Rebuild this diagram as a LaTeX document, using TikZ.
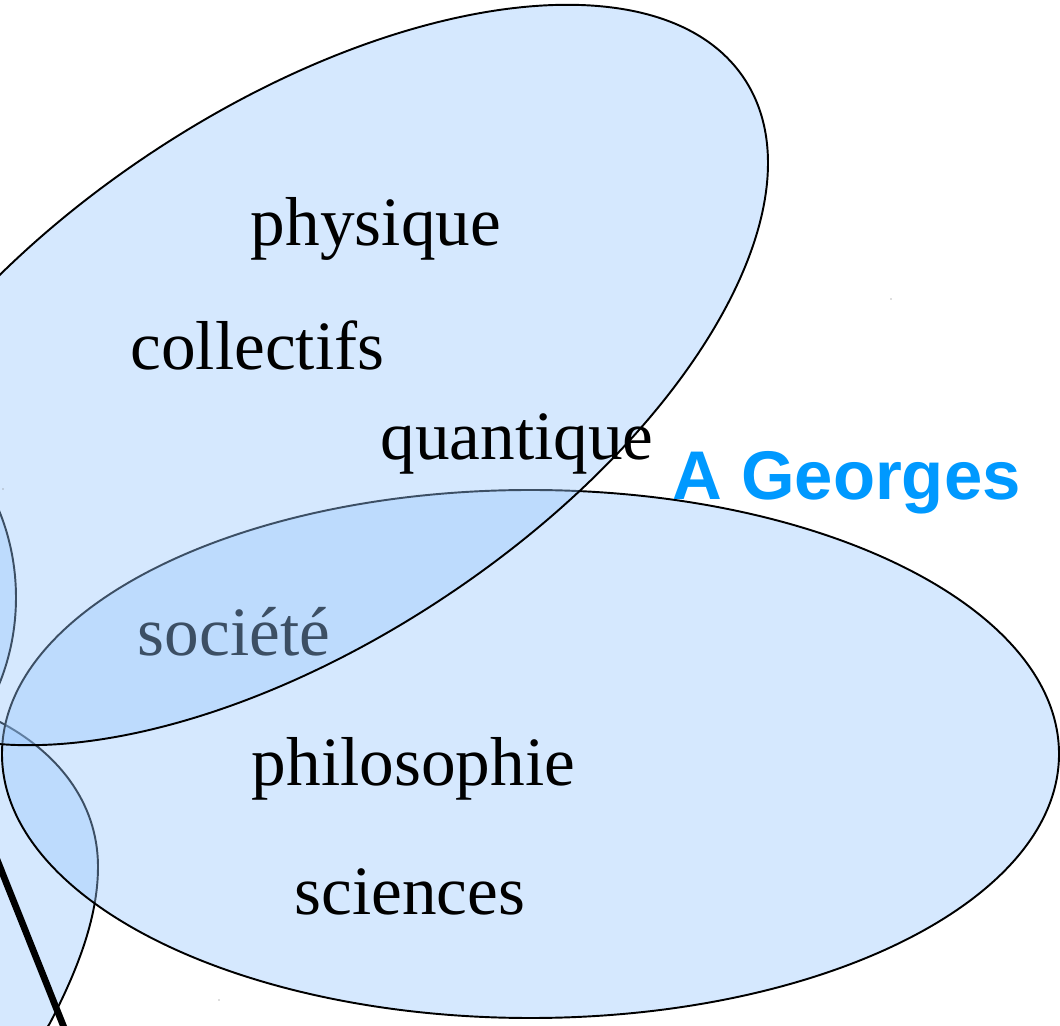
\documentclass[tikz,border=0pt]{standalone}
\usepackage{fontspec}
\setmainfont{Liberation Serif}
\newfontfamily\authorfont{Liberation Sans}
\usepackage{xcolor}
\usepackage{tikz}
\definecolor{bbFill}{HTML}{97C6FC}
\definecolor{bbInk}{HTML}{000000}
\definecolor{bbAuthor}{HTML}{0099FF}
\definecolor{bbSpeck}{HTML}{707070}
\tikzset{
  bb diagram/.style={line cap=round, line join=round},
  bb bubble/.style={draw=bbInk, line width=0.55pt, fill=bbFill,
    fill opacity=0.4, draw opacity=1},
  bb word/.style={font=\fontsize{19.7}{23}\selectfont, text=bbInk,
    anchor=base, inner sep=0pt},
  bb author/.style={font=\authorfont\bfseries\fontsize{19.6}{23}\selectfont,
    text=bbAuthor, anchor=base, inner sep=0pt},
  bb stroke/.style={draw=bbInk, line width=1.9pt},
  bb speck/.style={fill=bbSpeck}
}

\begin{document}
\begin{tikzpicture}[bb diagram]
\useasboundingbox (0,0) rectangle (10.6,10.25);
\clip (0,0) rectangle (10.6,10.25);
\draw[bb bubble] (-1.84,4.275) ellipse [x radius=2.0, y radius=2.156];
\draw[bb bubble] (0,3.03) .. controls (0.55,2.74) and (0.98,2.25) .. (0.98,1.58)
  .. controls (0.98,1.05) and (0.75,0.50) .. (0.50,0.02)
  .. controls (0.30,-0.36) and (-0.9,-0.6) .. (-1.0,1.0)
  .. controls (-1.1,2.6) and (-0.55,3.32) .. (0,3.03) -- cycle;
\draw[bb bubble] (5.305,2.71) ellipse [x radius=5.285, y radius=2.64];
\node[bb word] (societe) at (2.34,3.69) {société};
\draw[bb bubble, shift={(2.98,6.50)}, rotate=33.6] (0,0) ellipse [x radius=5.357, y radius=2.662];
\node[bb word] (physique) at (3.76,7.79) {physique};
\node[bb word] (collectifs) at (2.575,6.55) {collectifs};
\node[bb word] (quantique) at (5.17,5.65) {quantique};
\node[bb author] (author) at (8.465,5.25) {A Georges};
\node[bb word] (philosophie) at (4.135,2.40) {philosophie};
\node[bb word] (sciences) at (4.10,1.11) {sciences};
\coordinate (stroke top) at (-0.20,2.08);
\coordinate (stroke end) at (0.75,-0.30);
\draw[bb stroke] (stroke top) -- (stroke end);
\foreach \x/\y in {8.91/7.26,2.19/0.25,0.03/5.36}
  \fill[bb speck] (\x,\y) circle (0.006);
\end{tikzpicture}
\end{document}
